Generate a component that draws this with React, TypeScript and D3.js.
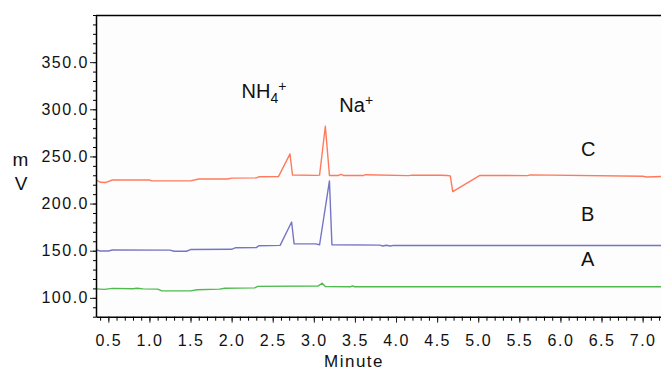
import React, { useRef, useEffect } from "react";
import * as d3 from "d3";

// trace C (top, orange)
const cTimes = [0.35, 0.4, 0.47, 0.55, 1.0, 1.03, 1.5, 1.6, 1.95, 2.0, 2.3, 2.33, 2.57, 2.71, 2.74, 3.03, 3.07, 3.14, 3.19, 3.3, 3.33, 3.36, 3.6, 3.63, 4.15, 4.2, 4.55, 4.62, 4.66, 4.69, 5.02, 5.6, 5.63, 7.0, 7.05, 7.3];
const cValues = [225.2, 222.6, 222.4, 225, 225, 224.1, 224.1, 226, 226, 227, 227.2, 228.4, 228.6, 252.7, 230.3, 229.9, 230.2, 282, 229.8, 229.8, 231, 229.8, 229.7, 230.6, 229.6, 230.2, 230, 229.8, 229.4, 212.6, 229.9, 229.6, 230.4, 229, 228.2, 228.9];
// trace B (middle, blue)
const bTimes = [0.35, 0.4, 0.5, 0.55, 1.25, 1.3, 1.45, 1.5, 2.0, 2.05, 2.3, 2.33, 2.59, 2.73, 2.76, 3.02, 3.07, 3.19, 3.22, 3.8, 3.84, 3.88, 3.93, 3.97, 7.3];
const bValues = [151, 149.7, 149.7, 150.8, 150.6, 149.4, 149.4, 151.2, 151.5, 153.2, 153.3, 155.3, 155.6, 180.4, 157.3, 157.2, 156.3, 224, 156.3, 155.9, 155, 155.8, 155, 155.6, 155.5];
// trace A (bottom, green)
const aTimes = [0.35, 0.45, 0.55, 0.8, 0.85, 0.92, 1.1, 1.15, 1.5, 1.58, 1.85, 1.92, 2.28, 2.32, 3.05, 3.1, 3.14, 3.45, 3.47, 3.5, 7.3];
const aValues = [109.5, 109, 110, 109.6, 110.2, 109.5, 109.3, 107.4, 107.4, 108.6, 109.3, 110.2, 110.6, 112.2, 112.5, 115.5, 112, 111.8, 112.6, 111.8, 111.8];

const traceColors = ["#ff7a5c", "#7575c8", "#4fbb4f"];
const xTickLabels = [0.5, 1.0, 1.5, 2.0, 2.5, 3.0, 3.5, 4.0, 4.5, 5.0, 5.5, 6.0, 6.5, 7.0];
const yTickLabels = [100, 150, 200, 250, 300, 350];

// annotations: [text, time, value]
const traceLabels = [
  ["C", 6.25, 250.6],
  ["B", 6.25, 182],
  ["A", 6.25, 133.4],
];

const W = 661;
const H = 374;
const left = 96;
const top = 15;
const bottom = 316.7;

const font = "'Liberation Sans', Arial, Helvetica, sans-serif";

const App = () => {
  const gx = useRef<SVGGElement>(null);
  const gxMinor = useRef<SVGGElement>(null);
  const gy = useRef<SVGGElement>(null);
  const gyMinor = useRef<SVGGElement>(null);

  const x = d3.scaleLinear().domain([0.35, 7.3]).range([left, left + 6.95 * 82.2]);
  const y = d3.scaleLinear().domain([80, 400]).range([bottom, top]);

  useEffect(() => {
    const styleAxis = (g: any) => {
      g.select(".domain").attr("stroke", "#000").attr("stroke-width", 1.5);
      g.selectAll(".tick line").attr("stroke", "#222");
      g.selectAll("text")
        .attr("fill", "#111")
        .style("font-family", font)
        .style("font-size", "16px")
        .style("letter-spacing", "1.5px");
    };

    d3.select(gxMinor.current).call(
      d3.axisBottom(x).tickValues(d3.range(0.4, 7.3, 0.1)).tickSize(4).tickSizeOuter(0).tickFormat(() => "")
    );
    d3.select(gxMinor.current).select(".domain").remove();
    d3.select(gx.current)
      .call(d3.axisBottom(x).tickValues(xTickLabels).tickSize(6).tickSizeOuter(0).tickPadding(12).tickFormat(d3.format(".1f")))
      .call(styleAxis);

    d3.select(gyMinor.current).call(
      d3.axisLeft(y).tickValues(d3.range(80, 401, 10)).tickSize(3).tickSizeOuter(0).tickFormat(() => "")
    );
    d3.select(gyMinor.current).select(".domain").remove();
    d3.select(gy.current)
      .call(d3.axisLeft(y).tickValues(yTickLabels).tickSize(6).tickSizeOuter(0).tickPadding(1).tickFormat(d3.format(".1f")))
      .call(styleAxis);
  }, []);

  const series = [
    { times: cTimes, values: cValues },
    { times: bTimes, values: bValues },
    { times: aTimes, values: aValues },
  ];

  const pathFor = (times: number[], values: number[]) =>
    d3
      .line<number>()
      .x((d) => x(d))
      .y((d, i) => y(values[i]))(times);

  return (
    <div style={{ position: "absolute", left: 0, top: 0, width: W, height: H, overflow: "hidden", background: "#fff" }}>
      <svg width={W} height={H} style={{ display: "block" }}>
        <defs>
          <clipPath id="plot">
            <rect x={left} y={top} width={W - left + 20} height={bottom - top} />
          </clipPath>
        </defs>
        <rect x={left} y={top} width={W - left + 20} height={bottom - top} fill="#fdfdfd" />
        <g clipPath="url(#plot)">
          {series.map((s, i) => (
            <path
              key={i}
              d={pathFor(s.times, s.values) || ""}
              fill="none"
              stroke={traceColors[i]}
              strokeWidth={1.4}
              strokeLinejoin="round"
            />
          ))}
        </g>
        <line x1={left} x2={W + 10} y1={top + 0.5} y2={top + 0.5} stroke="#000" strokeWidth={1.5} />
        <g ref={gxMinor} transform={`translate(0, ${bottom})`} />
        <g ref={gx} transform={`translate(0, ${bottom})`} />
        <g ref={gyMinor} transform={`translate(${left}, 0)`} />
        <g ref={gy} transform={`translate(${left}, 0)`} />

        <g fontFamily={font} fill="#111">
          <text x={x(2.12)} y={y(312)} fontSize={20}>
            NH
            <tspan fontSize={14} dy={5}>4</tspan>
            <tspan fontSize={14} dy={-12}>+</tspan>
          </text>
          <text x={x(3.31)} y={y(297.5)} fontSize={20}>
            Na
            <tspan fontSize={14} dy={-7}>+</tspan>
          </text>
          {traceLabels.map(([t, tx, ty]) => (
            <text key={t as string} x={x(tx as number)} y={y(ty as number)} fontSize={20}>
              {t}
            </text>
          ))}
          <text x={354} y={367} fontSize={17} letterSpacing="1.5px" textAnchor="middle">
            Minute
          </text>
          <text x={20.5} y={166} fontSize={19} textAnchor="middle">m</text>
          <text x={21} y={190} fontSize={19} textAnchor="middle">V</text>
        </g>
      </svg>
    </div>
  );
};

export default App;
